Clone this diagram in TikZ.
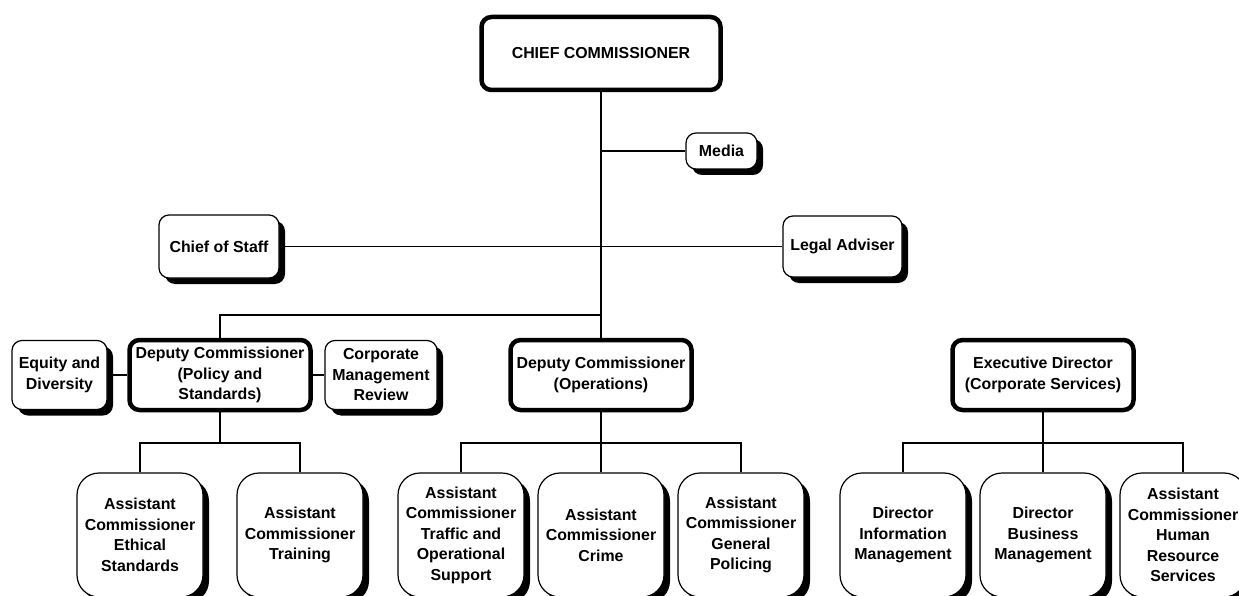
\documentclass[tikz,border=0pt]{standalone}
\usepackage{fontspec}
\setmainfont{Liberation Sans}
\usetikzlibrary{shadows}
\begin{document}
\begin{tikzpicture}[x=1pt,y=-1pt,
  every node/.style={font=\fontsize{15.9}{20.5}\selectfont\bfseries, align=center, inner sep=0pt},
  shbox/.style={draw, line width=1.2pt, rounded corners=10pt, fill=white,
    drop shadow={shadow xshift=6pt, shadow yshift=-6pt, fill=black, opacity=1}},
  thickbox/.style={draw, line width=4.5pt, rounded corners=10pt, fill=white,
    minimum width=181pt, minimum height=70pt},
  lowbox/.style={draw, line width=1.2pt, rounded corners=22pt, fill=white,
    minimum width=126pt, minimum height=124pt,
    drop shadow={shadow xshift=6pt, shadow yshift=-6pt, fill=black, opacity=1}},
  conn/.style={line width=1.8pt}]
\useasboundingbox (0,0) rectangle (1239,596);
\clip (0,0) rectangle (1239,596);

% top
\node[thickbox, minimum width=239pt, minimum height=73pt] (chief) at (601,53.5) {CHIEF COMMISSIONER};
\node[shbox, minimum width=71pt, minimum height=36pt] (media) at (721.5,151) {Media};
\node[shbox, minimum width=120pt, minimum height=63pt] (cos) at (219,246.5) {Chief of Staff};
\node[shbox, minimum width=119pt, minimum height=61pt] (legal) at (842.5,246.5) {Legal Adviser};

% deputies
\node[shbox, minimum width=95pt, minimum height=69pt] (equity) at (59.5,375) {Equity and\\Diversity};
\node[thickbox] (dpolicy) at (220,375) {Deputy Commissioner\\(Policy and\\Standards)};
\node[shbox, minimum width=112pt, minimum height=69pt] (cmr) at (381,375) {Corporate\\Management\\Review};
\node[thickbox] (dops) at (601,375) {Deputy Commissioner\\(Operations)};
\node[thickbox] (exec) at (1043,375) {Executive Director\\(Corporate Services)};

% bottom row
\node[lowbox] (ac1) at (140,535) {Assistant\\Commissioner\\Ethical\\Standards};
\node[lowbox] (ac2) at (300,535) {Assistant\\Commissioner\\Training};
\node[lowbox] (ac3) at (461,535) {Assistant\\Commissioner\\Traffic and\\Operational\\Support};
\node[lowbox] (ac4) at (601,535) {Assistant\\Commissioner\\Crime};
\node[lowbox] (ac5) at (741,535) {Assistant\\Commissioner\\General\\Policing};
\node[lowbox] (dir1) at (903,535) {Director\\Information\\Management};
\node[lowbox] (dir2) at (1043,535) {Director\\Business\\Management};
\node[lowbox] (ac6) at (1183,535) {Assistant\\Commissioner\\Human\\Resource\\Services};

% junction coordinates
\coordinate (j1) at (601,315);
\coordinate (b1) at (220,443);
\coordinate (b2) at (601,443);
\coordinate (b3) at (1043,443);

% connectors
\draw[conn] (chief.south) -- (dops.north);
\draw[conn] (media.west) -- (media.west -| chief.south);
\draw[conn] (cos.east) -- (legal.west);
\draw[conn] (dpolicy.north) |- (j1);
\draw[conn] (equity.east) -- (dpolicy.west);
\draw[conn] (dpolicy.east) -- (cmr.west);

\draw[conn] (dpolicy.south) -- (b1);
\draw[conn] (ac1.north) |- (b1) -| (ac2.north);
\draw[conn] (dops.south) -- (ac4.north);
\draw[conn] (ac3.north) |- (b2) -| (ac5.north);
\draw[conn] (exec.south) -- (dir2.north);
\draw[conn] (dir1.north) |- (b3) -| (ac6.north);
\end{tikzpicture}
\end{document}
